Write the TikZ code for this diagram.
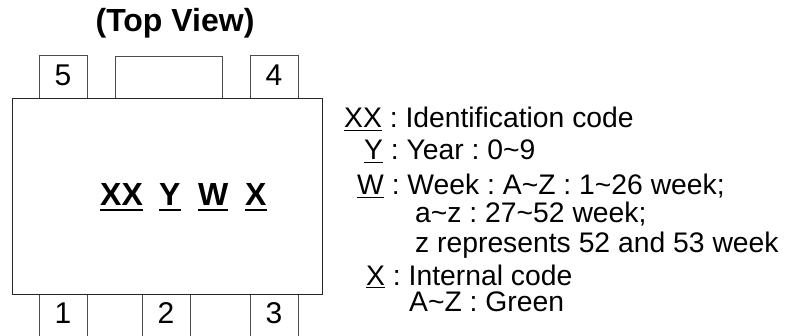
\documentclass[tikz,border=0pt]{standalone}
\usepackage{fontspec}
\setmainfont{Liberation Sans}
\newsavebox{\ulbox}
\newcommand{\ulthin}[1]{\sbox{\ulbox}{#1}\rlap{\rule[-3.4pt]{\wd\ulbox}{1.5pt}}\usebox{\ulbox}}
\newcommand{\ulbold}[1]{\sbox{\ulbox}{#1}\rlap{\rule[-5.5pt]{\wd\ulbox}{2.8pt}}\usebox{\ulbox}}
\tikzset{
pinbox/.style={draw=black!70,line width=0.9pt,fill=white,inner sep=0pt,minimum width=48,minimum height=43,font=\fontsize{30}{32}\selectfont},
bodybox/.style={draw=black!85,line width=0.9pt,fill=white,inner sep=0pt,minimum width=310,minimum height=196},
txt/.style={anchor=base west,inner sep=0pt,font=\fontsize{28.3}{30}\selectfont\frenchspacing},
boldmark/.style={anchor=base west,inner sep=0pt,font=\fontsize{32}{34}\selectfont\bfseries}}
\begin{document}
\begin{tikzpicture}[x=1pt,y=-1pt]
\useasboundingbox (0,0) rectangle (786,336);
\node[pinbox] (p5) at (63,76.5) {\raisebox{2pt}{5}};
\node[pinbox,minimum width=107,minimum height=42] (tab) at (168.5,77) {};
\node[pinbox] (p4) at (274,76.5) {\raisebox{2pt}{4}};
\node[pinbox] (p1) at (63,315.5) {\raisebox{5pt}{1}};
\node[pinbox] (p2) at (166,315.5) {\raisebox{5pt}{2}};
\node[pinbox] (p3) at (274,315.5) {\raisebox{5pt}{3}};
\node[bodybox] (body) at (167,196) {};
\node[anchor=base,font=\fontsize{32}{34}\selectfont\bfseries] (title) at (175,32) {(Top View)};
\node[boldmark] (m1) at (100,206) {\ulbold{XX}};
\node[boldmark] (m2) at (159,206) {\ulbold{Y}};
\node[boldmark] (m3) at (198,206) {\ulbold{W}};
\node[boldmark] (m4) at (245,206) {\ulbold{X}};
\node[txt] (t1) at (344,128) {\ulthin{XX} : Identification code};
\node[txt] (t2) at (364,160) {\ulthin{Y} : Year : 0\char"7E 9};
\node[txt] (t3) at (357,195) {\ulthin{W} : Week : A\char"7E Z : 1\char"7E 26 week;};
\node[txt] (t4) at (415,223) {a\char"7E z : 27\char"7E 52 week;};
\node[txt] (t5) at (415,253) {z represents 52 and 53 week};
\node[txt] (t6) at (366,285) {\ulthin{X} : Internal code};
\node[txt] (t7) at (409,311) {A\char"7E Z : Green};
\end{tikzpicture}
\end{document}
